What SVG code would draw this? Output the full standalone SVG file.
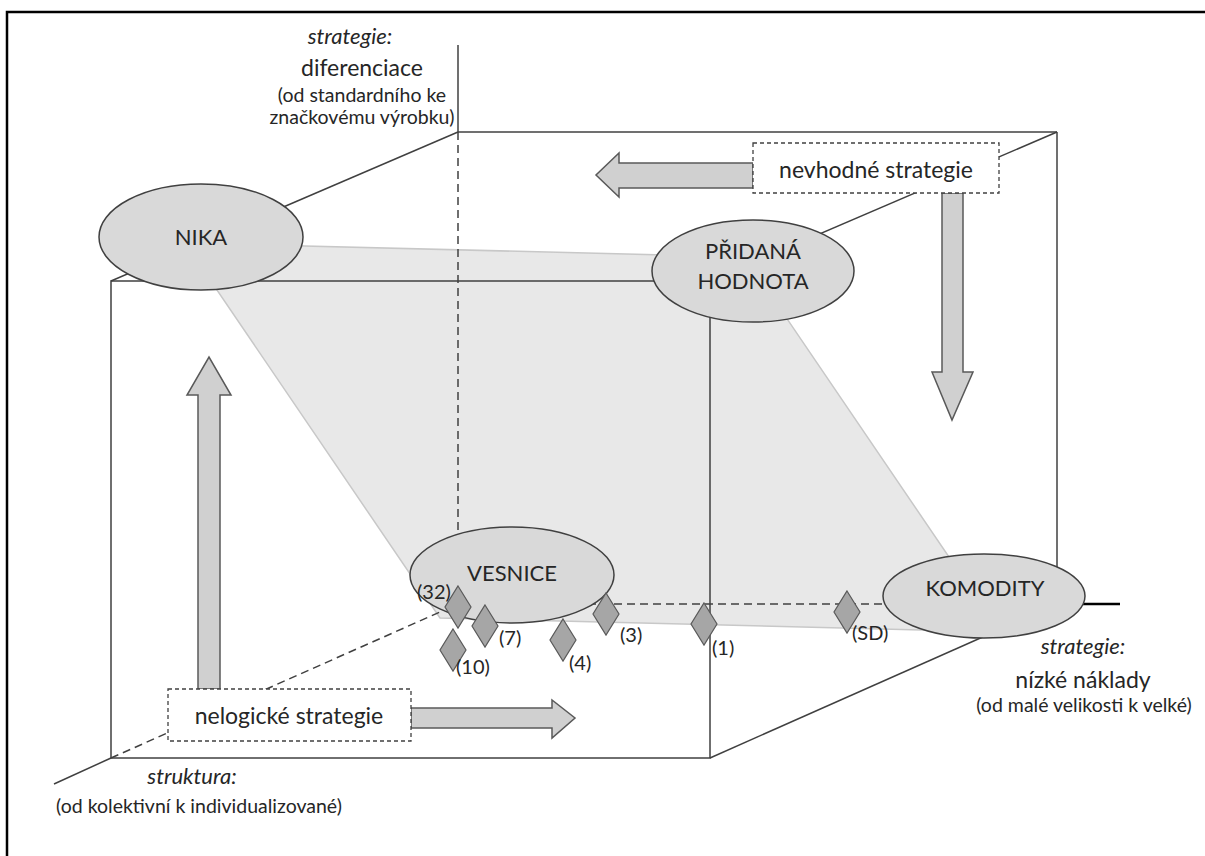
<svg xmlns="http://www.w3.org/2000/svg" width="1205" height="856" viewBox="0 0 1205 856">
<style>
text{font-family:Lato,"Open Sans","Liberation Sans",sans-serif;fill:#262626}
.edge{stroke:#404040;stroke-width:1.5;fill:none}
.dash{stroke:#404040;stroke-width:1.5;fill:none;stroke-dasharray:8 5}
.ell{fill:#d9d9d9;stroke:#404040;stroke-width:1.5}
.box{fill:#fff;stroke:#404040;stroke-width:1.3;stroke-dasharray:4 3}
.arr{fill:#d0d0d0;stroke:#595959;stroke-width:1.5}
.dm{fill:#a6a6a6;stroke:#595959;stroke-width:1.2}
.lab{font-size:20px}
.node{font-size:22px;text-anchor:middle}
.it{font-style:italic;font-size:22px;text-anchor:middle}
.sub{font-size:19.5px;text-anchor:middle}
.main{font-size:23px;text-anchor:middle}
</style>
<defs>
<polygon id="dmd" class="dm" points="0,-21 13,0 0,21 -13,0"/>
</defs>
<rect x="7" y="12" width="1212" height="862" fill="#fff" stroke="#000" stroke-width="2.5"/>
<g id="plane">
<polygon points="185,243 745,257 1000,632 440,618" fill="#e8e8e8" stroke="#c8c8c8" stroke-width="1.5"/>
</g>
<g id="connectors">
<line class="edge" x1="458" y1="45" x2="458" y2="132"/>
<line class="dash" x1="458" y1="132" x2="458" y2="604"/>
<line class="edge" x1="458" y1="132" x2="1057" y2="132"/>
<line class="edge" x1="1057" y1="132" x2="1057" y2="604"/>
<line class="dash" x1="458" y1="604" x2="1057" y2="604"/>
<line x1="1057" y1="604" x2="1120" y2="604" stroke="#000" stroke-width="2.5"/>
<rect class="edge" x="111" y="281" width="599" height="477"/>
<line class="edge" x1="111" y1="281" x2="458" y2="132"/>
<line class="edge" x1="710" y1="281" x2="1057" y2="132"/>
<line class="edge" x1="710" y1="758" x2="1057" y2="604"/>
<line class="dash" x1="111" y1="758" x2="458" y2="604"/>
<line class="edge" x1="111" y1="758" x2="54" y2="784"/>
<polygon class="arr" points="753,163 619,163 619,153 596,175 619,197 619,188 753,188"/>
<polygon class="arr" points="942,193 963,193 963,372 973,372 952,420 932,372 942,372"/>
<polygon class="arr" points="198,689 198,395 187,395 209,357 231,395 220,395 220,689"/>
<polygon class="arr" points="411,708 552,708 552,700 575,718 552,738 552,728 411,728"/>
</g>
<g id="nika"><ellipse class="ell" cx="201" cy="237" rx="102" ry="53"/><text class="node" x="201" y="245">NIKA</text></g>
<g id="pridana"><ellipse class="ell" cx="753" cy="271" rx="101" ry="51"/><text class="node" x="753" y="259">PŘIDANÁ</text><text class="node" x="753" y="289">HODNOTA</text></g>
<g id="vesnice"><ellipse class="ell" cx="512" cy="575" rx="102" ry="48"/><text class="node" x="512" y="581">VESNICE</text></g>
<g id="komodity"><ellipse class="ell" cx="984" cy="596" rx="101" ry="42"/><text class="node" x="985" y="596">KOMODITY</text></g>
<g id="nevhodne"><rect class="box" x="753" y="143" width="246" height="50"/><text class="main" x="876" y="178">nevhodné strategie</text></g>
<g id="nelogicke"><rect class="box" x="168" y="689" width="243" height="52"/><text class="main" x="289" y="724">nelogické strategie</text></g>
<g id="points">
<use href="#dmd" x="458" y="607"/><text class="lab" x="417" y="599">(32)</text>
<use href="#dmd" x="485" y="626"/><text class="lab" x="499" y="645">(7)</text>
<use href="#dmd" x="453" y="650"/><text class="lab" x="456" y="674">(10)</text>
<use href="#dmd" x="563" y="640"/><text class="lab" x="569" y="670">(4)</text>
<use href="#dmd" x="606" y="614"/><text class="lab" x="620" y="642">(3)</text>
<use href="#dmd" x="704" y="624"/><text class="lab" x="712" y="655">(1)</text>
<use href="#dmd" x="847" y="612"/><text class="lab" x="852" y="640">(SD)</text>
</g>
<g id="axis-labels">
<text class="it" x="350" y="44">strategie:</text>
<text class="main" x="362" y="76">diferenciace</text>
<text class="sub" x="362" y="102">(od standardního ke</text>
<text class="sub" x="362" y="124">značkovému výrobku)</text>
<text class="it" x="1083" y="654">strategie:</text>
<text class="main" x="1083" y="688">nízké náklady</text>
<text class="sub" x="1084" y="712">(od malé velikosti k velké)</text>
<text class="it" x="192" y="784">struktura:</text>
<text class="sub" x="199" y="813">(od kolektivní k individualizované)</text>
</g>
</svg>
